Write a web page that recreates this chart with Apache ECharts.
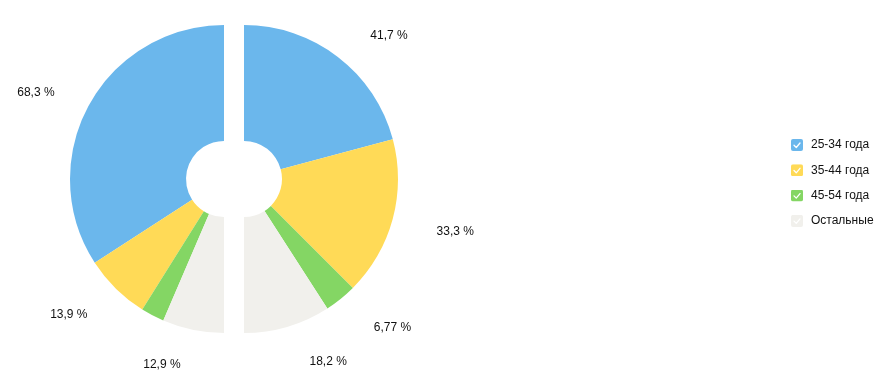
<!DOCTYPE html>
<html>
<head>
<meta charset="utf-8">
<script src="https://cdn.jsdelivr.net/npm/echarts@6/dist/echarts.min.js"></script>
<style>
html,body{margin:0;padding:0;background:#fff;}
#chart{width:888px;height:380px;}
</style>
</head>
<body>
<div id="chart"></div>
<script>
const categories = ['25-34 года', '35-44 года', '45-54 года', 'Остальные'];
const colors = ['#6BB7EC', '#FFDA57', '#84D664', '#F1F0EC'];
const rightValues = [41.7, 33.3, 6.77, 18.2];
const leftValues = [68.3, 13.9, 4.9, 12.9];
const leftHiddenLabels = ['45-54 года'];

function checkIcon(color) {
  const svg = '<svg xmlns="http://www.w3.org/2000/svg" width="24" height="24" viewBox="0 0 24 24">' +
    '<rect x="0" y="0" width="24" height="24" rx="4" ry="4" fill="' + color + '"/>' +
    '<polyline points="6,12.5 10.5,17 18,8" fill="none" stroke="#ffffff" stroke-width="2.6" stroke-linecap="round" stroke-linejoin="round"/>' +
    '</svg>';
  return 'image://data:image/svg+xml;charset=utf-8,' + encodeURIComponent(svg);
}

function fmt(p) {
  return String(p.value).replace('.', ',') + ' %';
}

const FONT = '"Liberation Sans", Arial, Helvetica, sans-serif';

function makeData(values, hidden) {
  return values.map((v, i) => {
    const d = { name: categories[i], value: v, itemStyle: { color: colors[i] } };
    if (hidden && hidden.indexOf(categories[i]) >= 0) d.label = { show: false };
    return d;
  });
}

const labelCommon = {
  show: true,
  position: 'outside',
  formatter: fmt,
  color: '#111',
  fontSize: 12,
  fontFamily: FONT
};

const chart = echarts.init(document.getElementById('chart'), null, { renderer: 'canvas' });
chart.setOption({
  animation: false,
  backgroundColor: '#fff',
  legend: {
    orient: 'vertical',
    left: 791,
    top: 139,
    padding: 0,
    itemWidth: 12,
    itemHeight: 12,
    itemGap: 13.3,
    textStyle: { fontSize: 12, color: '#111', fontFamily: FONT, padding: [0, 0, 0, 3] },
    data: categories.map((c, i) => ({ name: c, icon: checkIcon(colors[i]) }))
  },
  series: [
    {
      type: 'pie',
      name: 'right',
      center: [244, 179],
      radius: [38, 154],
      startAngle: 90,
      endAngle: -90,
      clockwise: true,
      avoidLabelOverlap: false,
      label: labelCommon,
      labelLine: { show: false, length: 32, length2: 8 },
      labelLayout: { dy: 4 },
      emphasis: { scale: false },
      data: makeData(rightValues)
    },
    {
      type: 'pie',
      name: 'left',
      center: [224, 179],
      radius: [38, 154],
      startAngle: 90,
      endAngle: 270,
      clockwise: false,
      avoidLabelOverlap: false,
      label: labelCommon,
      labelLine: { show: false, length: 32, length2: 1 },
      labelLayout: { dy: 3 },
      emphasis: { scale: false },
      data: makeData(leftValues, leftHiddenLabels)
    }
  ]
});
</script>
</body>
</html>
